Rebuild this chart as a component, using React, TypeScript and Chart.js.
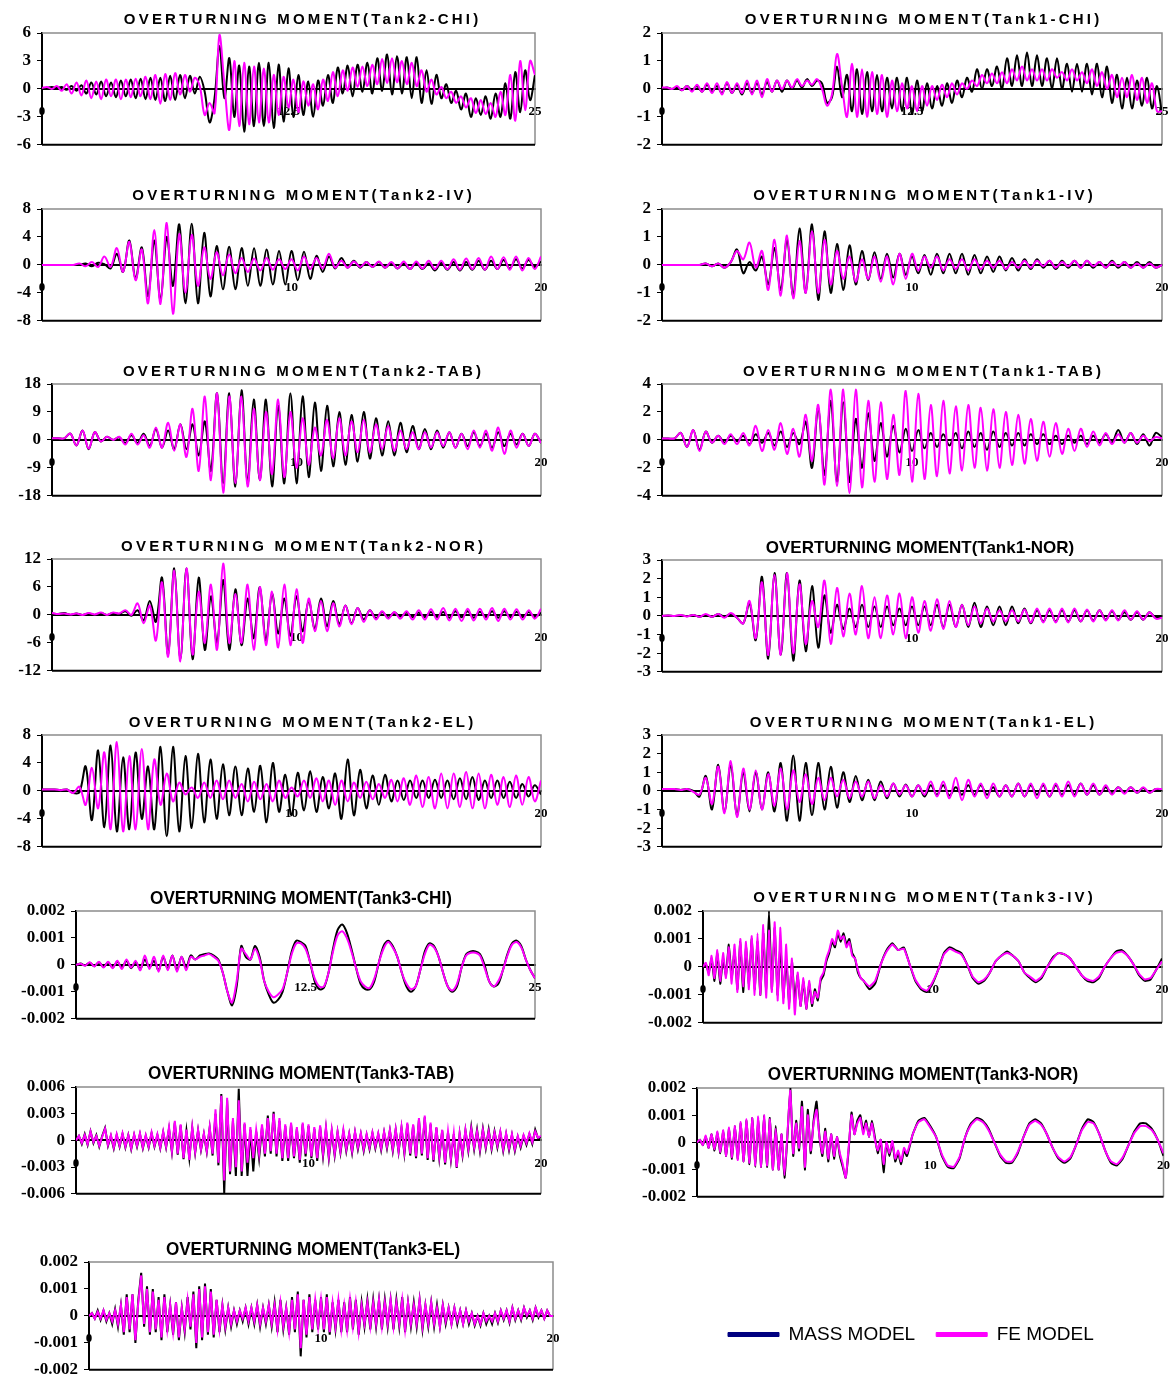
import React, { useEffect, useRef } from "react";
import { Chart, registerables } from "chart.js";

Chart.register(...registerables);

const STEP = 0.25;
const FINE = 0.125;
const MILLI = 0.001;

// ---------- Tank2-CHI (0..25 s, step 0.25) ----------
const CHI2_MASS = [0,0.1,0.2,0.1,0.2,-0.1,0.3,-0.2,0.4,
-0.5,0.7,-0.6,0.8,-0.8,0.7,-0.9,0.9,
-0.8,1.0,-1.0,1.1,-1.1,1.2,-1.2,1.2,
-1.3,1.4,-1.2,1.5,-1.0,1.4,-0.5,1.3,
-0.3,-3.6,-1.0,4.6,-1.0,3.3,-3.0,2.5,
-4.6,2.4,-4.0,2.8,-4.0,2.8,-4.2,2.6,
-3.5,2.2,-3.0,1.5,-2.8,0.8,-3.0,0.9,
-1.8,1.5,-1.5,2.3,-0.5,2.5,-0.8,2.6,
-0.3,2.8,-0.5,3.3,-0.2,3.7,-0.6,3.5,
-0.5,3.4,-1.0,3.4,-1.5,2.0,-1.6,1.5,
-1.0,0.5,-1.5,-0.2,-2.2,-0.5,-3.0,-1.0,
-2.8,-0.8,-3.2,-0.5,-3.0,0.6,-3.2,1.8,
-2.5,2.0,-1.2,1.5];
const CHI2_FE = [0.1,0.2,0,0.3,-0.2,0.5,-0.5,0.7,-0.7,
0.9,-1.0,0.8,-1.1,1.0,-0.8,1.0,-1.1,
1.0,-0.9,1.1,-0.8,1.3,-1.1,1.5,-1.6,
1.6,-1.2,1.7,-0.6,1.5,-0.3,1.2,0.3,
-2.8,-1.5,-2.6,5.8,0.5,-4.4,3.0,-4.0,
2.8,-3.8,2.4,-3.6,2.2,-3.6,1.5,-2.8,
1.3,-2.0,1.0,-2.5,0.8,-1.8,0.5,-2.2,
1.0,-1.3,1.8,-0.8,2.0,-0.2,2.3,0.2,
2.4,0.3,2.6,0.5,3.2,0.6,3.3,0.7,
3.0,0.5,2.8,0.3,2.0,-0.3,1.0,-0.6,
0.2,-1.0,-0.3,-1.5,-0.8,-2.0,-1.0,-2.6,
-1.2,-2.7,-1.5,-3.0,-0.3,-2.8,1.5,-3.4,
3.0,-2.3,3.0,1.5];

// ---------- Tank1-CHI ----------
const CHI1_MASS = [0,0.05,0,0.05,-0.05,0.1,-0.05,0.1,-0.1,
0.15,-0.1,0.1,-0.15,0.2,-0.15,0.15,-0.2,
0.2,-0.15,0.2,-0.2,0.25,-0.1,0.3,-0.1,
0.3,0,0.3,0.05,0.35,0.1,0.3,0.2,
-0.5,-0.3,0.8,-0.3,0.5,-0.8,0.7,-0.9,
0.6,-0.8,0.5,-0.8,0.4,-0.7,0.4,-0.8,
0.4,-0.9,0.3,-0.8,0.2,-0.7,0.1,-0.6,
0.2,-0.5,0.3,-0.3,0.4,-0.1,0.7,0,
0.7,0.1,0.8,0,1.1,0.1,1.2,0.1,
1.3,0.1,1.2,0.1,1.1,0,1.1,0,
0.9,-0.1,0.9,-0.1,0.9,-0.2,0.9,-0.3,
0.8,-0.5,0.5,-0.7,0.4,-0.7,0.3,-0.6,
0.4,-0.7,0.1,-0.9];
const CHI1_FE = [0.05,0.05,0,0.1,-0.05,0.1,-0.1,0.15,-0.1,
0.2,-0.15,0.2,-0.2,0.25,-0.15,0.2,-0.15,
0.3,-0.2,0.3,-0.3,0.35,-0.1,0.3,0,
0.3,0.05,0.35,0.1,0.3,0.15,0.35,0,
-0.6,-0.2,1.25,0.1,-1.0,0.9,-1.0,0.7,
-1.0,0.6,-0.9,0.5,-1.0,0.3,-0.8,0.2,
-0.7,0.1,-0.8,0.1,-0.6,0.1,-0.4,0.15,
-0.3,0.2,-0.2,0.2,0,0.3,0.1,0.5,
0.2,0.55,0.2,0.6,0.2,0.7,0.3,0.8,
0.3,0.7,0.3,0.7,0.3,0.7,0.4,0.6,
0.3,0.7,0.3,0.6,0.2,0.7,0.1,0.6,
0,0.5,-0.3,0.4,-0.3,0.5,-0.4,0.4,
-0.5,0.2,-0.8,-0.8];

// ---------- Tank2-IV (0..20 s) ----------
const IV2_MASS = [0,0,0,0,0,0,0,0.2,-0.2,
0.3,0.1,-0.5,1.6,-1.0,3.5,-2.0,2.5,
-4.5,3.5,-5.0,4.0,-3.0,5.8,-5.5,5.9,
-5.5,4.6,-4.5,2.7,-3.5,2.6,-3.5,2.4,
-3.0,2.4,-3.0,2.2,-2.8,2.0,-2.8,2.0,
-2.2,1.9,-2.0,1.3,-1.0,1.2,-0.5,1.0,
-0.4,0.6,-0.4,0.4,-0.3,0.4,-0.4,0.3,
-0.5,0.2,-0.6,0.3,-0.6,0.2,-0.8,0.3,
-0.7,0.4,-0.8,0.4,-0.7,0.6,-0.7,0.6,
-0.6,0.7,-0.5,0.8,-0.5,0.7,-0.3,0.5];
const IV2_FE = [0,0,0,0,0,0,0.2,-0.2,0.4,
-0.3,1.2,-0.3,2.4,-1.0,3.3,-2.2,2.2,
-5.5,5.0,-5.6,6.0,-7.0,4.4,-4.0,4.3,
-3.0,2.5,-2.0,1.8,-1.5,1.5,-1.2,1.0,
-1.0,0.9,-0.8,1.0,-0.7,0.8,-0.6,0.8,
-0.8,1.2,-0.6,1.0,-0.5,1.6,-0.4,0.6,
-0.4,0.5,-0.3,0.4,-0.3,0.5,-0.4,0.4,
-0.5,0.5,-0.6,0.5,-0.5,0.6,-0.6,0.6,
-0.6,0.8,-0.7,0.9,-0.6,1.0,-0.7,1.2,
-0.6,1.1,-0.7,1.2,-0.8,1.0,-0.6,1.2];

// ---------- Tank1-IV ----------
const IV1_MASS = [0,0,0,0,0,0,0,0.05,-0.05,
0.05,-0.1,0.1,0.55,-0.3,0.1,-0.2,0.3,
-0.7,0.6,-0.9,0.9,-1.1,1.3,-1.0,1.45,
-1.25,1.2,-1.0,0.75,-0.9,0.7,-0.7,0.5,
-0.55,0.45,-0.5,0.4,-0.45,0.4,-0.35,0.3,
-0.3,0.35,-0.35,0.4,-0.3,0.4,-0.3,0.4,
-0.35,0.35,-0.3,0.3,-0.25,0.3,-0.2,0.25,
-0.2,0.2,-0.15,0.2,-0.1,0.15,-0.15,0.15,
-0.1,0.15,-0.1,0.15,-0.1,0.1,-0.1,0.15,
-0.1,0.1,-0.1,0.1,-0.1,0.1,-0.1,0];
const IV1_FE = [0,0,0,0,0,0,0,0.05,-0.05,
0.05,-0.1,0.1,0.5,0.2,0.8,-0.1,0.5,
-0.9,0.9,-1.1,1.05,-1.2,0.85,-1.0,1.2,
-1.0,0.9,-0.7,0.5,-0.5,0.3,-0.6,0.2,
-0.5,0.3,-0.6,0.3,-0.7,0.4,-0.5,0.4,
-0.2,0.3,-0.1,0.3,-0.2,0.2,-0.15,0.2,
-0.2,0.2,-0.15,0.15,-0.1,0.15,-0.15,0.1,
-0.1,0.15,-0.1,0.15,-0.05,0.15,-0.1,0.1,
-0.05,0.15,-0.1,0.15,-0.05,0.1,-0.1,0.1,
-0.05,0.1,-0.1,0.05,-0.1,0.05,-0.1,0];

// ---------- Tank2-TAB ----------
const TAB2_MASS = [0.5,0.5,0.5,2.0,-1.8,3.0,-3.0,2.5,-0.5,
1.0,0,0.8,-1.0,1.5,-1.0,2.0,-2.0,
3.5,-2.5,3.0,-3.0,5.0,-3.0,5.0,-5.0,
6.0,-10.0,15.0,-14.0,15.0,-15.0,16.0,-14.0,
13.0,-13.0,13.0,-15.0,11.0,-14.0,15.0,-14.0,
14.0,-12.0,12.0,-10.0,11.0,-8.5,9.0,-8.0,
8.0,-7.0,9.0,-6.0,7.0,-5.0,6.0,-5.0,
5.5,-4.0,4.5,-3.0,3.5,-3.0,3.0,-2.5,
2.5,-2.5,2.0,-2.0,2.5,-2.0,2.0,-2.5,
2.5,-2.0,2.0,-1.5,2.0,-2.0,2.0,-1.0];
const TAB2_FE = [0.5,0.5,0.5,2.0,-1.8,3.0,-2.8,2.5,-0.5,
1.0,0,1.0,-1.5,2.0,-1.5,1.5,-2.5,
4.0,-2.5,5.5,-3.5,5.0,-5.5,10.0,-10.0,
14.0,-13.0,15.0,-17.0,14.0,-14.0,14.0,-15.0,
10.0,-13.0,9.0,-11.0,13.0,-12.0,9.0,-9.0,
7.0,-8.0,4.0,-5.0,6.5,-6.0,7.0,-5.0,
6.0,-4.0,6.5,-4.0,5.0,-3.0,4.5,-3.5,
3.0,-3.0,2.5,-3.0,2.5,-2.5,2.5,-2.0,
2.5,-2.5,2.0,-3.0,3.0,-2.5,3.0,-3.5,
4.0,-4.5,3.0,-2.5,2.0,-2.0,2.0,-1.0];

// ---------- Tank1-TAB ----------
const TAB1_MASS = [0.1,0.1,0.1,0.5,-0.5,0.7,-0.7,0.6,-0.2,
0.3,-0.2,0.3,-0.1,0.3,-0.3,0.4,-0.2,
0.5,-0.4,0.6,-0.5,0.5,-0.3,1.3,-2.0,
2.3,-2.5,2.8,-3.0,2.7,-3.0,1.5,-2.0,
1.9,-1.5,1.2,-1.2,1.0,-0.9,0.8,-0.8,
0.7,-0.6,0.5,-0.5,0.4,-0.4,0.5,-0.6,
0.6,-0.5,0.5,-0.7,0.6,-0.5,0.5,-0.4,
0.5,-0.4,0.4,-0.3,0.4,-0.3,0.3,-0.3,
0.3,-0.2,0.3,-0.3,0.3,-0.2,0.4,-0.2,
0.7,-0.2,0.5,-0.3,0.4,-0.4,0.5,0.2];
const TAB1_FE = [0.1,0.1,0.1,0.5,-0.5,0.7,-0.8,0.6,-0.2,
0.3,-0.3,0.4,-0.3,0.5,-0.4,1.0,-0.8,
0.7,-0.7,1.2,-1.0,0.8,-1.2,1.8,-1.5,
2.5,-3.2,3.6,-3.3,3.6,-3.8,3.6,-3.4,
2.8,-3.0,2.7,-2.8,1.8,-2.5,3.5,-3.0,
3.3,-2.8,2.5,-2.6,2.8,-2.4,2.4,-2.2,
2.5,-2.0,2.3,-2.2,2.2,-2.0,2.0,-1.8,
1.8,-1.7,1.5,-1.5,1.3,-1.2,1.2,-1.0,
0.8,-0.8,0.8,-0.5,0.6,-0.4,0.5,-0.3,
0.4,-0.2,0.5,-0.2,0.3,-0.1,0.2,0.1];

// ---------- Tank2-NOR ----------
const NOR2_MASS = [0.3,0.2,0.4,0,0.3,0,0.3,0,0.4,0,0.4,0.2,0.8,-0.2,
1.0,-1.2,3.0,-1.5,8.0,-8.5,10.0,-9.5,10.0,-9.5,8.0,-7.5,
4.0,-6.0,7.5,-7.5,5.5,-6.5,3.5,-5.0,6.0,-5.5,4.5,-4.0,
3.5,-4.5,4.0,-3.5,3.0,-3.0,3.5,-2.5,3.0,-2.0,2.0,-1.8,
1.5,-1.0,1.0,-0.7,0.6,-0.6,0.5,-0.4,0.5,-0.5,0.5,-0.5,
0.6,-0.5,0.6,-0.6,0.8,-0.5,0.8,-0.6,0.7,-0.5,0.8,-0.6,
0.8,-0.5,0.7,-0.5,0.6,-0.5,0.5];
const NOR2_FE = [0.4,0.2,0.3,0.1,0.3,0,0.4,0.1,0.5,0,0.5,0.3,1.0,0,
2.5,-1.8,2.0,-5.5,7.0,-9.0,9.5,-10.0,10.0,-8.5,5.0,-6.0,
6.5,-7.5,11.0,-6.0,4.5,-6.0,6.5,-7.5,6.0,-6.5,5.0,-7.0,
6.5,-6.5,5.5,-6.0,3.5,-3.5,3.0,-3.5,2.5,-2.5,2.0,-2.0,
1.5,-1.5,1.0,-1.0,0.8,-0.8,0.6,-0.8,0.8,-1.0,1.0,-1.0,
1.2,-1.0,1.5,-1.2,1.3,-1.3,1.3,-1.2,1.3,-1.0,1.5,-1.3,
1.3,-1.0,1.2,-1.0,1.0,-0.8,1.3];

// ---------- Tank1-NOR ----------
const NOR1_MASS = [0,0.02,0,0.03,-0.02,0.05,-0.05,0.05,-0.05,0.1,-0.05,0.1,-0.1,
-0.4,0.7,-1.3,2.1,-2.3,2.3,-2.1,2.3,-2.4,1.9,-1.9,1.6,
-1.7,1.1,-0.9,0.6,-0.7,0.4,-0.6,0.6,-0.6,0.5,-0.6,0.5,
-0.5,0.4,-0.5,0.5,-0.5,0.5,-0.5,0.6,-0.6,0.6,-0.6,0.6,
-0.6,0.7,-0.6,0.5,-0.5,0.5,-0.5,0.5,-0.4,0.4,-0.4,0.3,
-0.3,0.3,-0.3,0.3,-0.3,0.3,-0.3,0.3,-0.25,0.3,-0.2,0.25,
-0.2,0.2,-0.2,0.2,-0.2,0.2,-0.1,0];
const NOR1_FE = [0,0.02,0,0.05,-0.03,0.05,-0.05,0.1,-0.05,0.1,-0.1,0.15,-0.1,
-0.4,0.8,-1.2,1.8,-2.1,2.2,-2.1,2.3,-2.0,1.7,-1.5,0.8,
-0.6,1.9,-1.5,1.5,-1.1,1.2,-1.0,1.6,-1.2,1.0,-1.2,1.1,
-1.0,1.2,-1.2,1.0,-0.9,0.8,-0.8,0.9,-0.7,0.8,-0.6,0.6,
-0.5,0.5,-0.4,0.4,-0.3,0.3,-0.3,0.3,-0.3,0.35,-0.35,0.4,
-0.35,0.4,-0.35,0.4,-0.35,0.4,-0.3,0.35,-0.3,0.3,-0.25,0.3,
-0.25,0.3,-0.2,0.25,-0.2,0.2,-0.15,-0.1];

// ---------- Tank2-EL ----------
const EL2_MASS = [0.2,0.2,0.2,0.1,0.2,-0.3,-0.2,
3.5,-4.2,5.8,-5.2,6.5,-5.8,4.8,-5.5,5.5,-4.0,3.5,-5.5,
6.3,-6.5,6.3,-5.8,5.0,-5.3,5.3,-4.5,4.5,-4.0,3.8,-3.5,
3.5,-3.5,3.2,-3.0,3.6,-4.5,4.0,-3.0,2.3,-3.5,2.6,-2.8,
2.8,-3.0,2.0,-2.5,2.5,-4.0,4.5,-3.5,3.0,-2.5,2.2,-2.0,
2.3,-1.5,1.5,-1.3,1.5,-1.0,1.5,-1.0,1.6,-1.0,1.5,-1.2,
1.8,-1.2,2.0,-1.3,1.5,-1.0,1.5,-1.0,1.3,-1.0,1.0,-0.8,
0.8,-0.5];
const EL2_FE = [0.2,0.2,0.2,0.1,0.2,-0.3,0.6,
-2.0,3.3,-2.5,5.5,-5.5,7.0,-5.8,5.0,-5.5,6.0,-5.5,4.5,
-2.0,2.5,-1.5,1.2,-0.5,0.5,-1.0,1.2,-1.0,1.5,-1.2,1.5,
-1.0,1.0,-1.5,1.3,-1.2,1.0,-1.5,1.5,-1.0,0.5,-0.8,1.5,
-1.0,1.8,-1.5,1.5,-2.0,1.5,-1.5,1.2,-1.0,1.3,-1.2,1.0,
-1.0,1.6,-1.5,1.8,-2.0,2.2,-2.3,2.0,-2.5,2.5,-2.5,2.5,
-2.3,2.7,-2.5,2.5,-2.5,2.3,-2.0,2.0,-2.3,2.2,-2.0,2.0,
-1.5,1.5];

// ---------- Tank1-EL ----------
const EL1_MASS = [0.1,0.1,0.1,0.05,0.1,0,
-0.3,0.8,-1.0,1.4,-1.1,1.4,-1.3,1.0,-1.1,1.0,-1.0,1.0,
-1.1,1.5,-1.6,1.9,-1.6,1.5,-1.3,1.5,-1.0,1.3,-0.9,1.0,
-0.6,0.8,-0.5,0.6,-0.5,0.5,-0.4,0.4,-0.3,0.35,-0.3,0.3,
-0.3,0.3,-0.2,0.3,-0.25,0.2,-0.2,0.3,-0.2,0.3,-0.2,0.2,
-0.3,0.3,-0.3,0.4,-0.3,0.3,-0.2,0.3,-0.3,0.3,-0.2,0.3,
-0.2,0.4,-0.2,0.3,-0.2,0.2,-0.15,0.2,-0.1,0.2,-0.1,0.15,
-0.1,0.1,0.05];
const EL1_FE = [0.1,0.1,0.1,0.05,0.1,-0.05,
-0.2,0.7,-0.7,1.3,-1.2,1.6,-1.4,1.2,-1.0,1.1,-1.0,0.9,
-0.8,1.2,-1.0,1.1,-0.6,0.9,-0.7,0.7,-0.5,0.7,-0.3,0.6,
-0.4,0.5,-0.3,0.5,-0.4,0.3,-0.3,0.4,-0.2,0.3,-0.3,0.3,
-0.2,0.5,-0.3,0.5,-0.4,0.7,-0.5,0.6,-0.3,0.4,-0.4,0.4,
-0.3,0.3,-0.3,0.4,-0.3,0.4,-0.4,0.4,-0.3,0.4,-0.3,0.5,
-0.3,0.4,-0.2,0.4,-0.2,0.3,-0.2,0.2,-0.15,0.2,-0.1,0.2,
-0.1,0.1,0.1];

// ---------- Tank3 series, in units of 0.001 ----------
const CHI3_MASS = [0,0.05,-0.02,0.08,-0.05,0.1,-0.08,0.1,-0.1,0.12,-0.1,0.15,-0.12,0.1,-0.15,0.2,-0.1,0.15,-0.2,0.3,-0.15,0.35,-0.2,0.3,-0.1,0.35,
0.2,0.35,0.4,0.42,0.35,0.2,-0.3,-1.0,-1.5,-0.8,0.7,0.3,0.2,0.7,0.3,-0.6,-1.1,-1.4,-1.3,-1.0,-0.3,0.5,0.9,0.85,0.7,0.1,-0.6,-0.9,-0.85,-0.3,
0.6,1.3,1.5,1.2,0.6,-0.1,-0.7,-0.9,-0.9,-0.6,0.1,0.7,0.9,0.7,0.3,-0.3,-0.8,-1.0,-0.8,-0.2,0.5,0.8,0.7,0.3,-0.3,
-0.8,-1.0,-0.8,-0.1,0.4,0.5,0.5,0.4,0,-0.6,-0.8,-0.7,-0.2,0.4,0.8,0.9,0.7,0.2,-0.2,-0.5];
const CHI3_FE = [0,0.04,-0.03,0.1,-0.06,0.12,-0.1,0.12,-0.12,0.15,-0.15,0.2,-0.1,0.15,-0.2,0.35,-0.15,0.3,-0.25,0.35,-0.2,0.35,-0.25,0.3,-0.2,0.3,
0.2,0.3,0.35,0.4,0.3,0.15,-0.3,-1.0,-1.4,-0.6,0.6,0.4,0.2,0.6,0.2,-0.6,-1.0,-1.2,-1.1,-0.9,-0.3,0.4,0.8,0.8,0.6,0.1,-0.5,-0.8,-0.8,-0.3,
0.5,1.1,1.25,1.0,0.5,-0.1,-0.6,-0.8,-0.85,-0.5,0.1,0.6,0.85,0.65,0.3,-0.3,-0.7,-0.9,-0.8,-0.2,0.4,0.75,0.65,0.3,-0.3,
-0.8,-0.95,-0.7,-0.1,0.35,0.45,0.45,0.35,-0.1,-0.6,-0.8,-0.6,-0.2,0.35,0.75,0.85,0.65,0.2,-0.2,-0.5];

const IV3_MASS_A = [0,0.1,-0.2,0.3,-0.5,0.5,-0.6,0.3,-0.3,0.8,
-0.4,0.6,-0.8,0.9,-0.9,0.7,-0.6,1.0,-0.8,0.9,
-1.0,1.2,-0.8,2.0,-0.8,1.4,-1.0,0.8,-1.1,0.3,
-1.3,0.2,-1.2,-0.3,-1.4,-0.5,-1.5,-0.6,-1.4,-0.8,
-1.2,-0.5,-0.3,0.2,0.5,0.9,0.7,1.2,0.9,1.2,
0.8,1.0,0.5,0.3,-0.2,-0.4,-0.5];
const IV3_MASS_B = [-0.8,-0.6,0.1,0.6,0.85,0.6,0.7,0.1,-0.5,-0.8,
-0.9,-0.6,-0.1,0.5,0.7,0.6,0.5,0.1,-0.4,-0.6,
-0.5,-0.2,0.2,0.4,0.55,0.4,0.2,-0.2,-0.4,-0.55,
-0.4,0,0.35,0.5,0.45,0.3,0,-0.3,-0.5,-0.55,
-0.4,0,0.3,0.55,0.6,0.4,0.1,-0.3,-0.5,-0.45,
-0.1,0.3];
const IV3_FE_A = [0,0.15,-0.3,0.4,-0.4,0.6,-0.5,0.5,-0.4,0.7,
-0.6,0.8,-0.9,1.0,-0.7,0.9,-0.8,1.1,-1.0,1.2,
-1.0,1.5,-1.1,1.3,-0.9,1.6,-1.2,1.4,-1.3,0.8,
-1.5,0.3,-1.7,-0.2,-1.4,-0.4,-1.5,-0.5,-1.3,-0.9,
-1.1,-0.4,-0.2,0.3,0.6,1.0,0.8,1.3,1.0,1.1,
0.7,0.9,0.4,0.3,-0.1,-0.4,-0.5];
const IV3_FE_B = [-0.7,-0.5,0.1,0.55,0.8,0.6,0.65,0.1,-0.45,-0.75,
-0.85,-0.55,-0.1,0.45,0.65,0.55,0.45,0.1,-0.35,-0.55,
-0.45,-0.2,0.2,0.4,0.5,0.4,0.2,-0.2,-0.35,-0.5,
-0.35,0,0.3,0.5,0.45,0.3,0,-0.3,-0.45,-0.5,
-0.35,0,0.3,0.5,0.55,0.4,0.1,-0.25,-0.45,-0.4,
-0.1,0.2];

const TAB3_MASS = [0,0.5,-0.4,0.7,-0.5,1.0,-0.3,0.6,
-0.7,0.5,1.4,-0.6,0.5,-0.9,0.6,-0.7,
0.7,-0.8,0.6,-1.0,0.6,-0.7,0.7,-0.9,
0.5,-0.8,0.8,-0.7,0.6,-0.9,0.9,-0.8,
1.3,-1.3,2.0,-1.6,1.7,-2.1,1.1,-2.0,
1.4,-1.4,1.1,-1.1,0.7,-1.3,1.4,-1.7,
3.0,-2.8,5.2,-6.0,4.5,-3.8,2.2,-4.0,
5.8,-4.0,1.8,-4.0,1.2,-3.5,1.0,-2.0,
1.5,-1.8,2.8,-1.5,3.2,-1.8,2.2,-2.3,
1.6,-2.3,1.8,-2.0,1.3,-2.5,1.8,-1.8,
1.6,-2.0,1.3,-2.3,1.5,-1.8,1.3,-2.0,
1.0,-1.7,0.9,-1.4,1.0,-1.2,0.7,-1.4,
0.9,-1.0,0.7,-1.2,0.6,-1.0,0.8,-0.9,
0.7,-1.1,0.9,-0.9,1.1,-1.2,1.2,-1.3,
1.4,-1.5,1.8,-1.7,1.7,-2.0,2.3,-1.7,
2.6,-2.2,1.8,-2.4,1.4,-2.0,1.1,-2.7,
0.9,-2.2,0.7,-3.1,0.7,-1.7,1.1,-1.2,
1.5,-1.0,1.2,-1.2,1.3,-0.9,1.2,-1.0,
1.0,-0.8,0.9,-1.2,0.7,-1.1,0.6,-1.2,
0.4,-0.8,0.5,-0.5,0.7,-0.4,1.2,0.2,
0.4];
const TAB3_FE = [0,0.5,-0.3,0.6,-0.4,1.0,-0.2,0.5,
-0.6,0.4,1.3,-0.5,0.6,-0.8,0.7,-0.6,
0.8,-0.7,0.6,-0.9,0.7,-0.6,0.8,-0.8,
0.6,-0.7,0.9,-0.6,0.7,-0.8,1.0,-0.7,
1.5,-1.2,2.2,-1.5,1.8,-2.0,1.2,-2.2,
1.5,-1.3,1.2,-1.0,0.8,-1.2,1.5,-1.5,
3.5,-2.5,5.0,-4.5,4.8,-3.5,2.5,-3.0,
4.5,-3.5,2.0,-2.5,1.5,-2.0,1.2,-1.5,
1.8,-1.5,2.5,-1.2,3.0,-1.5,2.5,-2.0,
1.8,-2.0,2.0,-1.8,1.5,-2.2,2.0,-1.5,
1.8,-1.8,1.5,-2.0,1.7,-1.5,1.5,-1.8,
1.2,-1.5,1.0,-1.2,1.2,-1.0,0.8,-1.2,
1.0,-0.8,0.8,-1.0,0.7,-0.8,0.9,-0.7,
0.8,-0.9,1.0,-0.7,1.2,-1.0,1.3,-1.2,
1.5,-1.3,2.0,-1.5,1.8,-1.8,2.5,-1.5,
2.8,-2.0,2.0,-2.2,1.5,-1.8,1.2,-2.5,
1.0,-2.0,0.8,-3.0,0.8,-1.5,1.2,-1.0,
1.3,-0.8,1.0,-1.0,1.2,-0.7,1.0,-0.8,
0.9,-0.6,1.0,-1.0,0.8,-0.9,0.7,-1.0,
0.5,-0.6,0.6,-0.3,0.8,-0.2,1.0,0.3,
0.5];

const NOR3_MASS_A = [0,0.1,-0.1,0.2,-0.2,0.3,-0.3,0.35,
-0.4,0.4,-0.5,0.5,-0.6,0.6,-0.6,0.7,
-0.7,0.8,-0.8,0.9,-0.9,0.9,-0.9,1.0,
-0.9,0.9,-1.0,0.6,-1.0,0.3,-1.3,0.2,
2.0,-0.5,0.8,-0.3,1.5,-1.0,1.2,-0.4,
0.8,1.5,0.2,-0.5,0.5,-0.7,0.3,-0.6,
0.2,-0.5,-0.9,-1.3,-0.3,1.1,0.3,0.8,
1.0,0.4,0.8,0.2,0.8,0.2,-0.4,0.1,
-1.1,0,-0.5,0,-0.7,-0.4,-0.8,-0.3,
-0.5];
const NOR3_MASS_B = [0.3,0.8,0.9,0.6,0.2,-0.5,-0.9,-0.95,-0.6,0.2,0.7,0.9,0.8,0.5,0,-0.5,-0.75,-0.75,-0.4,0.2,0.7,0.85,
0.7,0.3,-0.2,-0.6,-0.75,-0.6,-0.1,0.5,0.85,0.75,0.3,-0.3,-0.75,-0.85,-0.6,-0.1,0.4,0.7,0.7,0.5,0.1,-0.5];
const NOR3_FE_A = [0,0.1,-0.1,0.25,-0.2,0.3,-0.25,0.4,
-0.35,0.45,-0.5,0.55,-0.55,0.6,-0.65,0.75,
-0.7,0.85,-0.75,0.9,-0.85,0.95,-0.9,1.0,
-0.85,0.85,-1.0,0.5,-1.0,0.3,-1.2,0.3,
1.9,-0.4,0.7,-0.2,1.3,-0.9,1.0,-0.3,
0.7,1.2,0.2,-0.4,0.4,-0.6,0.3,-0.5,
0.2,-0.4,-0.8,-1.3,-0.2,1.0,0.3,0.7,
0.9,0.3,0.7,0.2,0.7,0.1,-0.3,0.1,
-0.8,0,-0.4,0.05,-0.6,-0.3,-0.7,-0.2,
-0.4];
const NOR3_FE_B = [0.3,0.75,0.85,0.55,0.2,-0.45,-0.85,-0.9,-0.55,0.2,0.65,0.85,0.75,0.45,0,-0.45,-0.7,-0.7,-0.35,0.2,0.65,0.8,
0.65,0.3,-0.2,-0.55,-0.7,-0.55,-0.1,0.45,0.75,0.7,0.3,-0.3,-0.7,-0.8,-0.55,-0.1,0.35,0.6,0.6,0.45,0.1,-0.4];

const EL3_MASS = [0,0.1,-0.1,0.2,-0.15,0.2,-0.2,0.1,
-0.3,0.25,-0.4,0.4,-0.7,0.8,-0.6,0.8,
-1.0,0.6,1.6,-0.4,1.1,-0.7,1.0,-0.6,
0.7,-0.9,0.8,-0.6,0.4,-0.7,0.5,-0.9,
0.3,-0.6,0.7,-0.5,0.9,-1.2,1.1,-0.9,
1.2,-0.7,1.0,-0.8,0.6,-0.6,0.4,-0.5,
0.3,-0.4,0.2,-0.3,0.2,-0.2,0.3,-0.3,
0.3,-0.3,0.4,-0.4,0.3,-0.3,0.4,-0.4,
0.5,-0.6,0.6,-0.5,0.3,-0.7,0.7,-0.6,
0.9,-1.5,0.6,-0.8,0.8,-0.6,0.6,-0.5,
0.7,-0.6,0.8,-0.7,0.5,-0.5,0.6,-0.6,
0.5,-0.6,0.7,-0.5,0.6,-0.7,0.5,-0.4,
0.6,-0.5,0.6,-0.4,0.6,-0.5,0.6,-0.4,
0.6,-0.5,0.6,-0.4,0.7,-0.6,0.5,-0.4,
0.5,-0.4,0.6,-0.5,0.4,-0.4,0.5,-0.4,
0.4,-0.4,0.4,-0.3,0.3,-0.3,0.3,-0.3,
0.2,-0.3,0.2,-0.3,0.1,-0.35,0,-0.35,
0.1,-0.3,0,-0.3,0.1,-0.25,0.2,-0.15,
0.2,-0.25,0.3,-0.15,0.2,-0.15,0.3,-0.05,
0.2,-0.15,0.3,-0.05,0.2,-0.1,0.2,0,
0];
const EL3_FE = [0,0.1,-0.1,0.15,-0.1,0.2,-0.15,0.1,
-0.2,0.2,-0.3,0.4,-0.6,0.7,-0.5,0.8,
-0.9,0.5,1.5,-0.3,1.0,-0.6,0.9,-0.5,
0.6,-0.8,0.7,-0.5,0.4,-0.6,0.5,-0.8,
0.3,-0.5,0.6,-0.4,0.8,-1.0,1.0,-0.8,
1.1,-0.6,0.9,-0.7,0.6,-0.5,0.4,-0.4,
0.3,-0.3,0.2,-0.2,0.2,-0.1,0.3,-0.2,
0.3,-0.2,0.4,-0.3,0.3,-0.2,0.4,-0.3,
0.4,-0.5,0.5,-0.4,0.3,-0.6,0.6,-0.5,
0.8,-1.2,0.6,-0.7,0.7,-0.5,0.6,-0.4,
0.6,-0.5,0.7,-0.6,0.5,-0.4,0.6,-0.5,
0.4,-0.5,0.6,-0.4,0.5,-0.6,0.4,-0.3,
0.5,-0.4,0.5,-0.3,0.6,-0.4,0.5,-0.3,
0.6,-0.4,0.5,-0.3,0.6,-0.5,0.5,-0.3,
0.4,-0.3,0.6,-0.4,0.4,-0.3,0.5,-0.3,
0.3,-0.4,0.4,-0.2,0.3,-0.3,0.3,-0.2,
0.2,-0.3,0.2,-0.2,0.1,-0.3,0,-0.3,
0.1,-0.2,0,-0.2,0.1,-0.2,0.2,-0.1,
0.2,-0.2,0.3,-0.1,0.2,-0.1,0.3,0,
0.2,-0.1,0.3,0,0.2,-0.1,0.2,0,
0];

const LEGEND_LABELS = ["MASS MODEL", "FE MODEL"];
const MASS_COLOR = "#000000";
const MASS_LEGEND_COLOR = "#000080";
const FE_COLOR = "#FF00FF";

const SERIF = "'Liberation Serif', 'Times New Roman', serif";
const SANS = "'Liberation Sans', Arial, sans-serif";

type Seg = { start: number; step: number; values: number[] };
const S = (values: number[], start = 0, step = STEP): Seg => ({ start, step, values });

type PanelSpec = {
  title: string;
  style: "spaced" | "plain" | "narrow";
  titleX: number;
  titleY: number;
  plot: number[];
  col: number;
  xMax: number;
  xStep: number;
  yMax: number;
  yStep: number;
  unit: number;
  tension: number;
  mass: Seg[];
  fe: Seg[];
};

const PANELS: PanelSpec[] = [
  { title: "OVERTURNING MOMENT(Tank2-CHI)", style: "spaced", titleX: 301, titleY: 20, plot: [42, 33, 535, 145], col: 0, xMax: 25, xStep: 12.5, yMax: 6, yStep: 3, unit: 1, tension: 0.35, mass: [S(CHI2_MASS)], fe: [S(CHI2_FE)] },
  { title: "OVERTURNING MOMENT(Tank1-CHI)", style: "spaced", titleX: 922, titleY: 20, plot: [662, 33, 1162, 145], col: 1, xMax: 25, xStep: 12.5, yMax: 2, yStep: 1, unit: 1, tension: 0.35, mass: [S(CHI1_MASS)], fe: [S(CHI1_FE)] },
  { title: "OVERTURNING MOMENT(Tank2-IV)", style: "spaced", titleX: 302, titleY: 196, plot: [42, 209, 541, 321], col: 0, xMax: 20, xStep: 10, yMax: 8, yStep: 4, unit: 1, tension: 0.35, mass: [S(IV2_MASS)], fe: [S(IV2_FE)] },
  { title: "OVERTURNING MOMENT(Tank1-IV)", style: "spaced", titleX: 923, titleY: 196, plot: [662, 209, 1162, 321], col: 1, xMax: 20, xStep: 10, yMax: 2, yStep: 1, unit: 1, tension: 0.35, mass: [S(IV1_MASS)], fe: [S(IV1_FE)] },
  { title: "OVERTURNING MOMENT(Tank2-TAB)", style: "spaced", titleX: 302, titleY: 372, plot: [52, 384, 541, 496], col: 0, xMax: 20, xStep: 10, yMax: 18, yStep: 9, unit: 1, tension: 0.35, mass: [S(TAB2_MASS)], fe: [S(TAB2_FE)] },
  { title: "OVERTURNING MOMENT(Tank1-TAB)", style: "spaced", titleX: 922, titleY: 372, plot: [662, 384, 1162, 496], col: 1, xMax: 20, xStep: 10, yMax: 4, yStep: 2, unit: 1, tension: 0.35, mass: [S(TAB1_MASS)], fe: [S(TAB1_FE)] },
  { title: "OVERTURNING MOMENT(Tank2-NOR)", style: "spaced", titleX: 302, titleY: 547, plot: [52, 559, 541, 671], col: 0, xMax: 20, xStep: 10, yMax: 12, yStep: 6, unit: 1, tension: 0.35, mass: [S(NOR2_MASS)], fe: [S(NOR2_FE)] },
  { title: "OVERTURNING MOMENT(Tank1-NOR)", style: "plain", titleX: 920, titleY: 548, plot: [662, 560, 1162, 672], col: 1, xMax: 20, xStep: 10, yMax: 3, yStep: 1, unit: 1, tension: 0.35, mass: [S(NOR1_MASS)], fe: [S(NOR1_FE)] },
  { title: "OVERTURNING MOMENT(Tank2-EL)", style: "spaced", titleX: 301, titleY: 723, plot: [42, 735, 541, 847], col: 0, xMax: 20, xStep: 10, yMax: 8, yStep: 4, unit: 1, tension: 0.35, mass: [S(EL2_MASS)], fe: [S(EL2_FE)] },
  { title: "OVERTURNING MOMENT(Tank1-EL)", style: "spaced", titleX: 922, titleY: 723, plot: [662, 735, 1162, 847], col: 1, xMax: 20, xStep: 10, yMax: 3, yStep: 1, unit: 1, tension: 0.35, mass: [S(EL1_MASS)], fe: [S(EL1_FE)] },
  { title: "OVERTURNING MOMENT(Tank3-CHI)", style: "narrow", titleX: 301, titleY: 899, plot: [76, 911, 535, 1019], col: 0, xMax: 25, xStep: 12.5, yMax: 0.002, yStep: 0.001, unit: MILLI, tension: 0.3, mass: [S(CHI3_MASS)], fe: [S(CHI3_FE)] },
  { title: "OVERTURNING MOMENT(Tank3-IV)", style: "spaced", titleX: 923, titleY: 898, plot: [703, 911, 1162, 1023], col: 1, xMax: 20, xStep: 10, yMax: 0.002, yStep: 0.001, unit: MILLI, tension: 0.15, mass: [S(IV3_MASS_A, 0, FINE), S(IV3_MASS_B, 7.25, STEP)], fe: [S(IV3_FE_A, 0, FINE), S(IV3_FE_B, 7.25, STEP)] },
  { title: "OVERTURNING MOMENT(Tank3-TAB)", style: "narrow", titleX: 301, titleY: 1074, plot: [76, 1087, 541, 1194], col: 0, xMax: 20, xStep: 10, yMax: 0.006, yStep: 0.003, unit: MILLI, tension: 0, mass: [S(TAB3_MASS, 0, FINE)], fe: [S(TAB3_FE, 0, FINE)] },
  { title: "OVERTURNING MOMENT(Tank3-NOR)", style: "narrow", titleX: 923, titleY: 1075, plot: [697, 1088, 1167, 1197], col: 1, xMax: 20, xStep: 10, yMax: 0.002, yStep: 0.001, unit: MILLI, tension: 0.15, mass: [S(NOR3_MASS_A, 0, FINE), S(NOR3_MASS_B, 9.25, STEP)], fe: [S(NOR3_FE_A, 0, FINE), S(NOR3_FE_B, 9.25, STEP)] },
  { title: "OVERTURNING MOMENT(Tank3-EL)", style: "narrow", titleX: 313, titleY: 1250, plot: [89, 1262, 553, 1370], col: 0, xMax: 20, xStep: 10, yMax: 0.002, yStep: 0.001, unit: MILLI, tension: 0, mass: [S(EL3_MASS, 0, FINE)], fe: [S(EL3_FE, 0, FINE)] },
];

function toPoints(segs: Seg[], unit: number) {
  const out: { x: number; y: number }[] = [];
  for (const s of segs) {
    s.values.forEach((v, i) => {
      out.push({ x: Math.round((s.start + i * s.step) * 1000) / 1000, y: v * unit });
    });
  }
  return out;
}

const framePlugin = {
  id: "plotFrame",
  beforeDatasetsDraw(chart: any) {
    const { ctx, chartArea } = chart;
    const { left, top, right, bottom } = chartArea;
    ctx.save();
    ctx.strokeStyle = "#8c8c8c";
    ctx.lineWidth = 1.5;
    ctx.beginPath();
    ctx.moveTo(left, top);
    ctx.lineTo(right, top);
    ctx.lineTo(right, bottom);
    ctx.stroke();
    ctx.strokeStyle = "#000";
    ctx.lineWidth = 2;
    ctx.beginPath();
    ctx.moveTo(left, bottom);
    ctx.lineTo(right, bottom);
    ctx.stroke();
    ctx.restore();
  },
};

function makeTitlePlugin(p: PanelSpec, wl: number, wt: number) {
  return {
    id: "panelTitle",
    afterDraw(chart: any) {
      const ctx = chart.ctx;
      const x = p.titleX - wl;
      const y = p.titleY - wt;
      ctx.save();
      ctx.fillStyle = "#000";
      ctx.textAlign = "center";
      ctx.textBaseline = "middle";
      if (p.style === "spaced") {
        ctx.font = `bold 15px ${SANS}`;
        (ctx as any).letterSpacing = "3.2px";
        ctx.fillText(p.title, x + 1.6, y);
      } else if (p.style === "plain") {
        ctx.font = `bold 17px ${SANS}`;
        ctx.fillText(p.title, x, y);
      } else {
        ctx.font = `bold 19px ${SANS}`;
        ctx.translate(x, y);
        ctx.scale(0.9, 1);
        ctx.fillText(p.title, 0, 0);
      }
      ctx.restore();
    },
  };
}

function PanelChart({ p }: { p: PanelSpec }) {
  const ref = useRef<HTMLCanvasElement | null>(null);
  const [L, T, R, B] = p.plot;
  const wl = p.col === 0 ? 0 : 585;
  const wr = p.col === 0 ? 575 : 1185;
  const wt = T - 32;
  const wb = B + 16;

  useEffect(() => {
    if (!ref.current) return;
    const chart = new Chart(ref.current, {
      type: "line",
      data: {
        datasets: [
          { label: LEGEND_LABELS[1], data: toPoints(p.fe, p.unit), borderColor: FE_COLOR, backgroundColor: FE_COLOR, order: 1 },
          { label: LEGEND_LABELS[0], data: toPoints(p.mass, p.unit), borderColor: MASS_COLOR, backgroundColor: MASS_COLOR, order: 2 },
        ],
      },
      options: {
        animation: false,
        responsive: true,
        maintainAspectRatio: false,
        events: [],
        layout: { autoPadding: false, padding: { top: T - wt, bottom: wb - B, right: wr - R, left: 0 } },
        elements: { point: { radius: 0 }, line: { borderWidth: 2, tension: p.tension, fill: false } },
        plugins: { legend: { display: false }, tooltip: { enabled: false }, title: { display: false } },
        scales: {
          x: {
            type: "linear",
            min: 0,
            max: p.xMax,
            position: { y: 0 },
            grid: { display: false, drawTicks: false },
            border: { display: true, color: "#000", width: 2 },
            ticks: {
              stepSize: p.xStep,
              autoSkip: false,
              maxRotation: 0,
              padding: 15,
              color: "#000",
              font: { family: SERIF, size: 13, weight: "bold" },
              callback: (v: any) => String(v),
            },
          },
          y: {
            type: "linear",
            min: -p.yMax,
            max: p.yMax,
            position: "left",
            grid: { drawOnChartArea: false, drawTicks: true, tickLength: 5, color: "#000", lineWidth: 1 },
            border: { display: true, color: "#000", width: 2 },
            ticks: {
              stepSize: p.yStep,
              autoSkip: false,
              padding: 6,
              color: "#000",
              font: { family: SERIF, size: 17, weight: "bold" },
              callback: (v: any) => String(+Number(v).toFixed(4)),
            },
            afterFit: (s: any) => {
              s.width = L - wl;
            },
          },
        },
      } as any,
      plugins: [framePlugin, makeTitlePlugin(p, wl, wt)],
    });
    return () => chart.destroy();
  }, []);

  return (
    <div style={{ position: "absolute", left: wl, top: wt, width: wr - wl, height: wb - wt }}>
      <canvas ref={ref} />
    </div>
  );
}

function LegendChart() {
  const ref = useRef<HTMLCanvasElement | null>(null);
  useEffect(() => {
    if (!ref.current) return;
    const chart = new Chart(ref.current, {
      type: "line",
      data: {
        datasets: [
          { label: LEGEND_LABELS[0], data: [], borderColor: MASS_LEGEND_COLOR, backgroundColor: MASS_LEGEND_COLOR, borderWidth: 1 },
          { label: LEGEND_LABELS[1], data: [], borderColor: FE_COLOR, backgroundColor: FE_COLOR, borderWidth: 1 },
        ],
      },
      options: {
        animation: false,
        responsive: true,
        maintainAspectRatio: false,
        events: [],
        scales: { x: { display: false }, y: { display: false } },
        plugins: {
          tooltip: { enabled: false },
          legend: {
            display: true,
            position: "top",
            align: "start",
            labels: { boxWidth: 51, boxHeight: 4, padding: 21, color: "#000", font: { family: SANS, size: 19 } },
          },
        },
      } as any,
    });
    return () => chart.destroy();
  }, []);
  return (
    <div style={{ position: "absolute", left: 707, top: 1304, width: 440, height: 120 }}>
      <canvas ref={ref} />
    </div>
  );
}

export default function App() {
  return (
    <div style={{ position: "absolute", left: 0, top: 0, width: 1171, height: 1378, overflow: "hidden", background: "#fff" }}>
      {PANELS.map((p, i) => (
        <PanelChart key={i} p={p} />
      ))}
      <LegendChart />
    </div>
  );
}
